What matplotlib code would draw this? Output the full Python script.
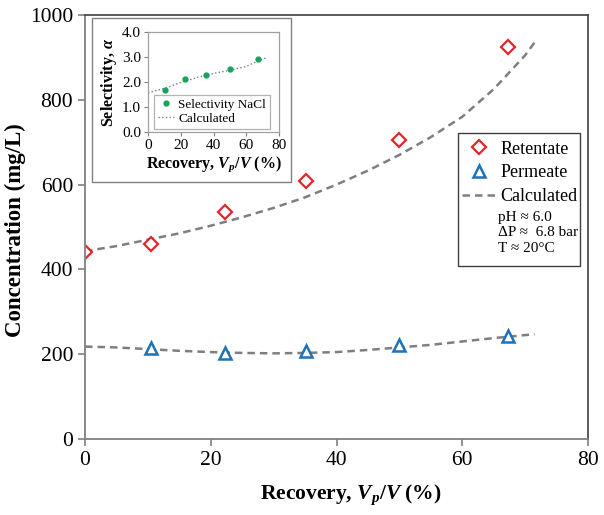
import numpy as np
import matplotlib.pyplot as plt
from matplotlib.lines import Line2D
from matplotlib.patches import Rectangle

plt.rcParams['font.family'] = ['Liberation Serif', 'DejaVu Serif']
plt.rcParams['mathtext.fontset'] = 'custom'
plt.rcParams['mathtext.rm'] = 'Liberation Serif'
plt.rcParams['mathtext.it'] = 'Liberation Serif:italic:bold'
plt.rcParams['mathtext.bf'] = 'Liberation Serif:bold'

# measured data
recovery = [10.5, 22.3, 35.2, 50.0, 67.3]
retentate_x = [0.0] + recovery
retentate = [441, 461, 536, 608, 706, 925]
permeate = [214, 202, 207, 221, 244]

# model curves
calc_x = [0, 5, 10, 15, 20, 25, 30, 35, 40, 45, 50, 55, 60, 65, 70, 71.5]
retentate_calc = [443, 455, 470, 485, 503, 523, 545, 570, 600, 633, 670, 712, 760, 825, 905, 935]
permeate_calc = [218, 216, 212, 208, 205, 203, 202, 203, 205, 210, 216, 222, 230, 238, 245, 247]

# inset: selectivity
selectivity = [1.68, 2.11, 2.28, 2.51, 2.91]
sel_calc_x = [0, 10, 20, 30, 40, 50, 60, 65, 72]
sel_calc = [1.57, 1.74, 1.98, 2.18, 2.34, 2.47, 2.62, 2.78, 2.96]

conditions = ['pH ≈ 6.0', 'ΔP ≈  6.8 bar', 'T ≈ 20°C']

red = '#e3262b'
blue = '#1f72b8'
gray = '#7f7f7f'

fig = plt.figure(figsize=(6.04, 5.15), dpi=100)
ax = fig.add_axes([85/604, 76/515, 503/604, 424/515])

ax.plot(calc_x, retentate_calc, ls='--', color=gray, lw=1.8, dashes=(3, 2))
ax.plot(calc_x, permeate_calc, ls='--', color=gray, lw=1.8, dashes=(3, 2))
ax.plot(retentate_x, retentate, ls='none', marker='D', ms=7, mfc='white',
        mec=red, mew=1.6)
ax.plot(recovery, permeate, ls='none', marker='^', ms=9, mfc='white',
        mec=blue, mew=1.8)

ax.set_xlim(0, 80)
ax.set_ylim(0, 1000)
ax.set_xticks(np.arange(0, 81, 20))
ax.set_yticks(np.arange(0, 1001, 200))
ax.tick_params(labelsize=15.5, direction='out', length=5, color='#808080', width=1.2)
for s in ['left', 'bottom']:
    ax.spines[s].set_color('#808080')
    ax.spines[s].set_linewidth(1.3)
for s in ['top', 'right']:
    ax.spines[s].set_color('#404040')
    ax.spines[s].set_linewidth(1.2)
ax.set_xlabel('Recovery, $V_p$/$V$ (%)', fontsize=15.5, fontweight='bold')
ax.set_ylabel('Concentration (mg/L)', fontsize=16.5, fontweight='bold')
ax.xaxis.set_label_coords((351-85)/503, -0.103)
ax.yaxis.set_label_coords(-0.118, 0.493)

# legend with frame drawn by hand so the conditions fit inside
ax.add_patch(Rectangle(((458-85)/503, (439-266)/424), 122/503, 133/424,
                       transform=ax.transAxes, fill=False, edgecolor='#404040',
                       lw=1.0, zorder=4))
handles = [
    Line2D([], [], ls='none', marker='D', ms=7, mfc='white', mec=red, mew=1.6),
    Line2D([], [], ls='none', marker='^', ms=9, mfc='white', mec=blue, mew=1.8),
    Line2D([], [], ls='--', color=gray, lw=1.8, dashes=(3, 2)),
]
leg = ax.legend(handles, ['Retentate', 'Permeate', 'Calculated'], loc='upper left',
                bbox_to_anchor=((458-85)/503, (439-137)/424), fontsize=13,
                frameon=False, handlelength=1.9, handletextpad=0.25,
                labelspacing=0.38, borderpad=0.2, borderaxespad=0)
for i, txt in enumerate(conditions):
    ax.text((498-85)/503, (439-217-16*i)/424, txt, transform=ax.transAxes,
            fontsize=11, va='center', ha='left')

# inset frame
fig.patches.append(Rectangle((92/604, 333/515), 199/604, 164/515,
                             transform=fig.transFigure, fill=True,
                             facecolor='white', edgecolor='#808080', lw=1.0,
                             zorder=1))

ins = fig.add_axes([148/604, 383/515, 131/604, 100/515])
ins.set_zorder(5)
ins.plot(sel_calc_x, sel_calc, ls=':', color=gray, lw=1.0)
ins.plot(recovery, selectivity, ls='none', marker='o', ms=3.5, color='#1aa35a')
ins.set_xlim(0, 80)
ins.set_ylim(0, 4)
ins.set_xticks(np.arange(0, 81, 20))
ins.set_yticks(np.arange(0, 4.01, 1.0))
ins.set_yticklabels(['%.1f' % v for v in np.arange(0, 4.01, 1.0)])
ins.tick_params(labelsize=11, direction='out', length=3, color='#808080', pad=2)
for s in ins.spines.values():
    s.set_color('#a0a0a0')
    s.set_linewidth(0.9)
ins.set_xlabel('Recovery, $V_p$/$V$ (%)', fontsize=11.5, fontweight='bold', labelpad=2)
ins.set_ylabel(r'Selectivity, $\alpha$', fontsize=11.5, fontweight='bold', labelpad=2)
h = [Line2D([], [], ls='none', marker='o', ms=3.5, color='#1aa35a'),
     Line2D([], [], ls=':', color=gray, lw=1.0)]
ileg = ins.legend(h, ['Selectivity NaCl', 'Calculated'], loc='lower right',
                  bbox_to_anchor=(0.93, 0.03), fontsize=9.5, frameon=True,
                  fancybox=False, edgecolor='#a0a0a0', handlelength=1.2,
                  handletextpad=0.3, labelspacing=0.15, borderpad=0.3,
                  borderaxespad=0)
ileg.get_frame().set_linewidth(0.9)

fig.savefig('out.png', dpi=100)
